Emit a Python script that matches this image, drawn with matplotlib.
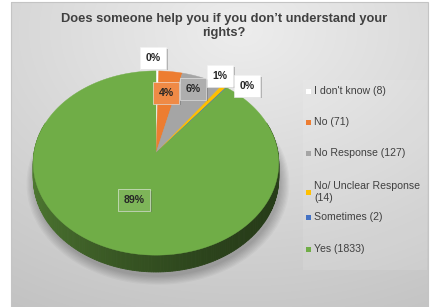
import numpy as np
import matplotlib.pyplot as plt
import matplotlib.patheffects as pe
from matplotlib.patches import Polygon, Rectangle
from matplotlib.colors import to_rgb

plt.rcParams['font.family'] = ['Liberation Sans', 'DejaVu Sans']

categories = ["I don't know", "No", "No Response", "No/ Unclear Response", "Sometimes", "Yes"]
counts = [8, 71, 127, 14, 2, 1833]
pct_labels = ["0%", "4%", "6%", "1%", "0%", "89%"]
colors = ["#FFFFFF", "#ED7D31", "#A5A5A5", "#FFC000", "#4472C4", "#70AD47"]
title = "Does someone help you if you don\u2019t understand your\nrights?"

# layout in pixel units (axes spans the whole figure)
W, H = 430, 307
CX, CY = 156, 153      # pie apex
RX, RY = 122, 91       # radii of the top face
K = 0.109              # perspective strength
DEPTH = 15             # thickness of the pie wall

fig = plt.figure(figsize=(W / 100, H / 100), dpi=100)
ax = fig.add_axes([0, 0, 1, 1])
ax.set_axis_off()

# chart area background, soft gradient
yy, xx = np.mgrid[0:H, 0:W]
dist = np.hypot(xx - 240, (yy - 30) * 1.4)
shade = 0.93 - 0.17 * dist / dist.max()
bg = np.dstack([shade] * 3)
ax.imshow(bg[2:, 11:428], extent=(11, 428, 307, 2), aspect='auto', zorder=0)
ax.add_patch(Rectangle((11, 2), 417, 310, fill=False, edgecolor='#c4c4c4', lw=0.8, zorder=0.5))


def proj(u, v, drop=0.0):
    d = 1.0 / (1.0 + K * v)
    return CX + RX * u * d, CY - RY * v * d + drop * d


vals = np.array(counts, dtype=float)
frac = vals / vals.sum()
edges = np.concatenate([[0], np.cumsum(frac)])
angles = 90 - 360 * edges  # clockwise from 12 o'clock

# soft shadow under the pie
tt = np.radians(np.linspace(0, 360, 181))
for s in np.linspace(1.0, 1.07, 8):
    px, py = proj(s * np.cos(tt), s * np.sin(tt), DEPTH + 4)
    ax.add_patch(Polygon(np.column_stack([px + 2, py]), closed=True,
                         facecolor='black', edgecolor='none', alpha=0.03, zorder=1))

# side wall
wt = np.linspace(160, 380, 221)
for t0, t1 in zip(wt[:-1], wt[1:]):
    tm = 0.5 * (t0 + t1)
    p = ((90 - tm) % 360) / 360
    idx = min(np.searchsorted(edges, p, side='right') - 1, len(vals) - 1)
    light = 0.55 + 0.2 * np.cos(np.radians(tm - 150))
    c = np.array(to_rgb(colors[idx])) * light
    r0, r1 = np.radians(t0), np.radians(t1)
    a = proj(np.cos(r0), np.sin(r0))
    b = proj(np.cos(r1), np.sin(r1))
    bb = proj(np.cos(r1), np.sin(r1), DEPTH)
    aa = proj(np.cos(r0), np.sin(r0), DEPTH)
    ax.add_patch(Polygon([a, b, bb, aa], closed=True, facecolor=c,
                         edgecolor=c, lw=0.6, zorder=2))

# top face wedges
for i in range(len(vals)):
    a0, a1 = angles[i], angles[i + 1]
    n = max(3, int(abs(a0 - a1) * 2))
    ts = np.radians(np.linspace(a0, a1, n))
    px, py = proj(np.cos(ts), np.sin(ts))
    pts = np.vstack([[proj(0, 0)], np.column_stack([px, py])])
    ax.add_patch(Polygon(pts, closed=True, facecolor=colors[i],
                         edgecolor=colors[i], lw=0.3, zorder=3))

# data labels
label_pos = [(153, 58), (166, 93), (193, 89), (220, 76), (247, 86), (134, 200)]
outside = [True, False, False, True, True, False]
for i, (lx, ly) in enumerate(label_pos):
    if outside[i]:
        fc = 'white'
    else:
        fc = tuple(np.array(to_rgb(colors[i])) * 0.9 + 0.1)
    t = ax.text(lx, ly, pct_labels[i], ha='center', va='center', fontsize=7.6,
                fontweight='bold', color='#262626', zorder=6,
                bbox=dict(boxstyle='square,pad=0.55', facecolor=fc,
                          edgecolor='#f2f2f2', lw=0.4))
    t.get_bbox_patch().set_path_effects([
        pe.SimplePatchShadow(offset=(1.2, -1.2), shadow_rgbFace='0.35', alpha=0.35),
        pe.Normal()])

# leader line for the small "Sometimes" slice
mid = np.radians(0.5 * (angles[4] + angles[5]))
rx0, ry0 = proj(np.cos(mid), np.sin(mid))
ax.plot([rx0, 235], [ry0, 87], color='#8c8c8c', lw=0.7, zorder=5)

# title
ax.text(224, 26, title, ha='center', va='center', fontsize=9.3, fontweight='bold',
        color='#404040', linespacing=1.2, zorder=6)

# legend
ax.add_patch(Rectangle((303, 80), 124, 190, facecolor='white', alpha=0.1,
                       edgecolor='none', zorder=1))
leg_labels = [f"{c} ({n})" for c, n in zip(categories, counts)]
leg_labels[3] = "No/ Unclear Response\n(14)"
leg_y = [91, 122, 153, 192, 217, 249]
for i, lab in enumerate(leg_labels):
    ax.add_patch(Rectangle((306, leg_y[i] - 2.5), 5, 5, facecolor=colors[i],
                           edgecolor='none', zorder=4))
    lines = lab.split('\n')
    ty = leg_y[i] - 6 * (len(lines) - 1)
    for j, line in enumerate(lines):
        ax.text(314, ty + 12 * j, line, ha='left', va='center', fontsize=7.6,
                color='#404040', zorder=4)

ax.set_xlim(0, W)
ax.set_ylim(H, 0)
fig.savefig('out.png', dpi=100, facecolor='white')
